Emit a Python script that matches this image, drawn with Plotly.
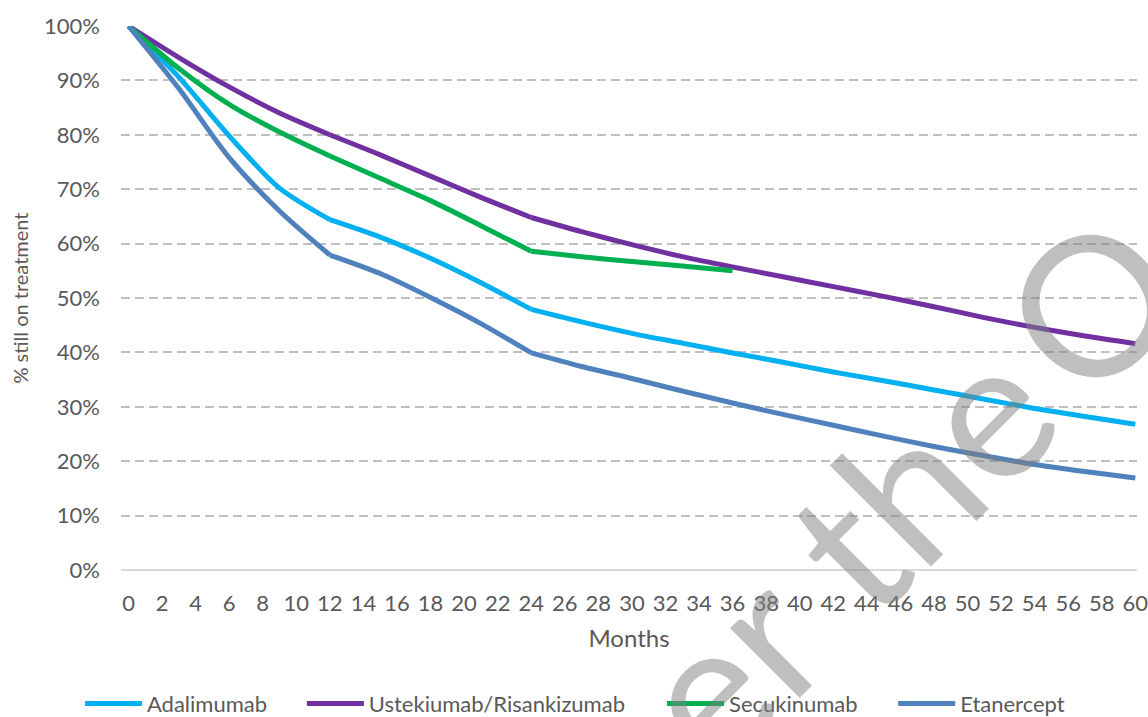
import plotly.graph_objects as go

# Months since start of treatment
months = [0, 3, 6, 9, 12, 15, 18, 21, 24, 27, 30, 33, 36, 39, 42, 45, 48, 51, 54, 57, 60]

# Percentage of patients still on treatment at each month
adalimumab = [100, 90.6, 79.8, 70.2, 64.4, 61.2, 57.3, 52.8, 47.9, 45.6, 43.5, 41.7, 39.9,
              38.2, 36.4, 34.8, 33.1, 31.4, 29.7, 28.2, 26.8]
ustekinumab = [100, 94.2, 88.8, 84.0, 80.0, 76.3, 72.4, 68.5, 64.8, 62.2, 59.8, 57.6, 55.7,
               53.9, 52.1, 50.3, 48.4, 46.4, 44.6, 43.0, 41.6]
secukinumab_months = months[:13]
secukinumab = [100, 92.2, 85.6, 80.5, 76.1, 72.0, 67.9, 63.3, 58.6, 57.6, 56.7, 55.9, 55.0]
etanercept = [100, 88.5, 75.8, 66.0, 57.9, 54.5, 50.1, 45.3, 39.9, 37.4, 35.2, 32.9, 30.7,
              28.6, 26.6, 24.6, 22.7, 21.0, 19.4, 18.1, 16.9]

# Yearly breakpoints where the curves change slope
breaks = [0, 12, 24, 60]

series = [
    ("Adalimumab", months, adalimumab, "#00B0F0", "legend"),
    ("Ustekiumab/Risankizumab", months, ustekinumab, "#7030A0", "legend2"),
    ("Secukinumab", secukinumab_months, secukinumab, "#00B050", "legend3"),
    ("Etanercept", months, etanercept, "#4F81BD", "legend4"),
]

FONT = "Lato, 'Open Sans', sans-serif"
TEXT = "#595959"

fig = go.Figure()
for name, x, y, color, leg in series:
    # each year-long stretch is smoothed on its own so the yearly corners stay sharp
    first = True
    for a, b in zip(breaks[:-1], breaks[1:]):
        idx = [i for i, m in enumerate(x) if a <= m <= b]
        if len(idx) < 2:
            continue
        fig.add_trace(go.Scatter(
            x=[x[i] for i in idx], y=[y[i] for i in idx],
            name=name, legendgroup=name, showlegend=first, legend=leg,
            mode="lines", line=dict(color=color, width=5, shape="spline", smoothing=0.8),
            cliponaxis=False,
        ))
        first = False

legend_base = dict(
    orientation="h", xanchor="left", y=-0.246, yanchor="middle",
    font=dict(size=22, color=TEXT), itemwidth=57, bgcolor="rgba(0,0,0,0)",
)

fig.update_layout(
    width=1148, height=717,
    margin=dict(l=121, r=11, t=26, b=147, autoexpand=False),
    paper_bgcolor="white", plot_bgcolor="white",
    font=dict(family=FONT, color=TEXT, size=22),
    showlegend=True,
    legend=dict(legend_base, x=-0.0404),
    legend2=dict(legend_base, x=0.178),
    legend3=dict(legend_base, x=0.5325),
    legend4=dict(legend_base, x=0.760),
    xaxis=dict(
        range=[-0.447, 60.1], tick0=0, dtick=2, showgrid=False, zeroline=False,
        showline=False, ticks="", ticklabelstandoff=18, automargin=False,
        ticklabeloverflow="allow",
        title=dict(text="Months", font=dict(size=24, color=TEXT), standoff=15),
    ),
    yaxis=dict(
        range=[0, 100], dtick=10, ticksuffix="%", showgrid=True,
        gridcolor="#BFBFBF", gridwidth=1.5, griddash="9px,5px",
        zeroline=True, zerolinecolor="#D9D9D9", zerolinewidth=1.5,
        showline=False, ticks="", ticklabelstandoff=20, automargin=False,
        title=dict(text="% still on treatment", font=dict(size=20, color=TEXT), standoff=10),
    ),
)

# Diagonal watermark lettering across the lower right
fig.add_annotation(
    text="er the\u2009O", xref="paper", yref="paper", x=0.771, y=0.153,
    xanchor="center", yanchor="middle",
    showarrow=False, textangle=-45,
    font=dict(family=FONT, size=194, color="rgba(128,128,128,0.5)"),
)

fig.write_html("out.html")
